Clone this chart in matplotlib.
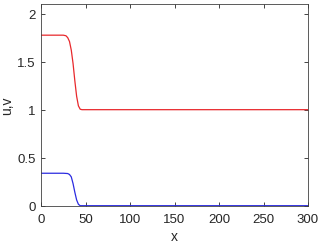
import numpy as np
import matplotlib
matplotlib.use("Agg")
import matplotlib.pyplot as plt

#%%
## values
x_u = [0, 25, 28, 30, 32, 34, 36, 38, 40, 42, 44, 46, 300]
u = [1.776, 1.776, 1.77, 1.75, 1.71, 1.62, 1.48, 1.30, 1.14, 1.04, 1.005, 1.0, 1.0]
x_v = [0, 25, 30, 32, 34, 36, 38, 40, 42, 44, 300]
v = [0.338, 0.338, 0.335, 0.325, 0.30, 0.23, 0.14, 0.06, 0.015, 0.0, 0.0]
xticks = [0, 50, 100, 150, 200, 250, 300]
yticks = [0, 0.5, 1, 1.5, 2]

#%%
plt.rcParams['font.family'] = ['Liberation Sans', 'DejaVu Sans']
fig = plt.figure(figsize=(3.18, 2.53), dpi=100)
ax = fig.add_axes([0.129, 0.183, 0.8396, 0.797])
ax.plot(x_u, u, color='#e8282c', lw=0.9)
ax.plot(x_v, v, color='#2b2be0', lw=0.9)
ax.set_xlim(0, 300)
ax.set_ylim(0, 2.1)
ax.set_xticks(xticks)
ax.set_yticks(yticks)
ax.set_yticklabels(["0", "0.5", "1", "1.5", "2"])
ax.tick_params(direction='in', top=True, right=True, length=3, width=0.6,
               labelsize=9.5, colors='#262626')
ax.tick_params(axis='x', pad=5)
ax.tick_params(axis='y', pad=4)
for s in ax.spines.values():
    s.set_color('#404040')
    s.set_linewidth(0.6)
ax.set_xlabel("x", fontsize=10, color='#262626', labelpad=3)
ax.set_ylabel("u,v", fontsize=10, color='#262626')
ax.yaxis.set_label_coords(-0.1, 0.5)
fig.savefig("out.png", dpi=100)
